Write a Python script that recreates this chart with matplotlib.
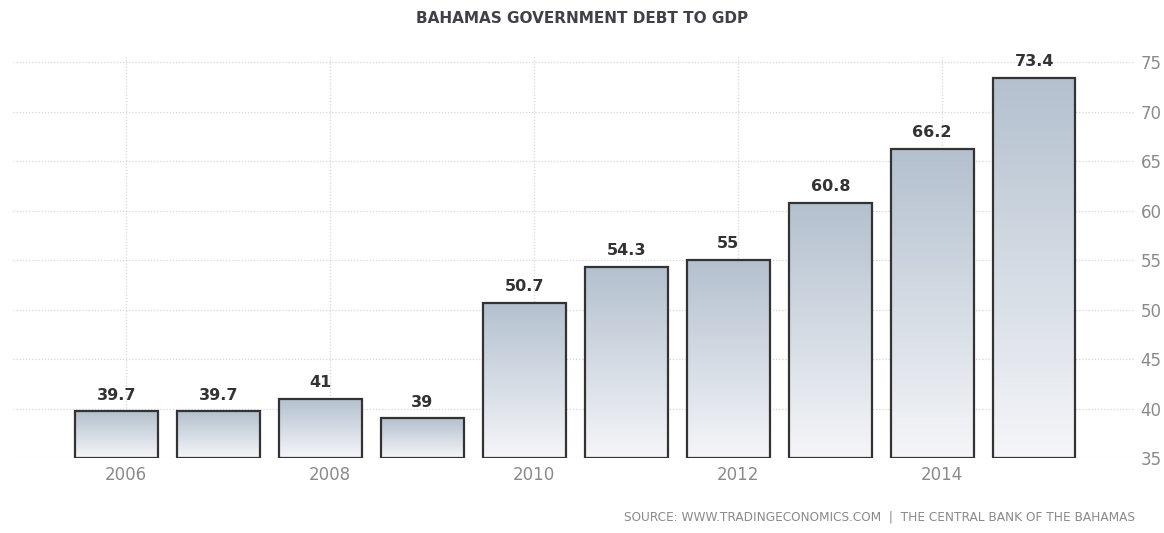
import numpy as np
import matplotlib.pyplot as plt
from matplotlib.colors import LinearSegmentedColormap

# Bahamas government debt to GDP (%)
years = [2006, 2007, 2008, 2009, 2010, 2011, 2012, 2013, 2014, 2015]
debt = [39.7, 39.7, 41, 39, 50.7, 54.3, 55, 60.8, 66.2, 73.4]
labels = ["39.7", "39.7", "41", "39", "50.7", "54.3", "55", "60.8", "66.2", "73.4"]
tick_years = [2006, 2008, 2010, 2012, 2014]
y_ticks = [35, 40, 45, 50, 55, 60, 65, 70, 75]

fig = plt.figure(figsize=(11.64, 5.33), dpi=100)
ax = fig.add_axes([0.0112, 0.1407, 0.964, 0.752])

x = np.arange(len(years))
width = 0.81
base = 35
cmap = LinearSegmentedColormap.from_list("bar", ["#f5f6f9", "#b3c0ce"])
grad = np.linspace(0, 1, 256).reshape(-1, 1)

bars = ax.bar(x, np.array(debt) - base, bottom=base, width=width,
              color="none", edgecolor="#333333", linewidth=1.6, zorder=3)
for b, val, lab in zip(bars, debt, labels):
    x0, y0 = b.get_x(), b.get_y()
    im = ax.imshow(grad, cmap=cmap, aspect="auto", origin="lower",
                   extent=[x0, x0 + b.get_width(), y0, y0 + b.get_height()],
                   zorder=2)
    im.set_clip_path(b)
    ax.text(b.get_x() + b.get_width() / 2, val + 0.9, lab, ha="center",
            va="bottom", fontsize=11.5, fontweight="bold", color="#333333")

ax.set_xlim(-1.016, 9.99)
ax.set_ylim(base, 75.5)

tick_pos = [years.index(y) + 0.093 for y in tick_years]
ax.set_xticks(tick_pos)
ax.set_xticklabels([str(y) for y in tick_years], fontsize=12, color="#8a8a8a")
ax.set_yticks(y_ticks)
ax.yaxis.tick_right()
ax.set_yticklabels([str(v) for v in y_ticks], fontsize=12, color="#8a8a8a")
ax.tick_params(axis="both", length=0, pad=6)
ax.tick_params(axis="y", pad=4)

ax.grid(True, color="#d6d6d6", linestyle=(0, (1, 1.5)), linewidth=0.9, zorder=0)
for s in ax.spines.values():
    s.set_visible(False)

fig.text(0.5, 0.965, "BAHAMAS GOVERNMENT DEBT TO GDP", ha="center", va="center",
         fontsize=11, fontweight="bold", color="#404048")
fig.text(0.975, 0.018, "SOURCE: WWW.TRADINGECONOMICS.COM  |  THE CENTRAL BANK OF THE BAHAMAS",
         ha="right", va="bottom", fontsize=8.7, color="#8a8a8a")

fig.savefig("out.png", dpi=100)
